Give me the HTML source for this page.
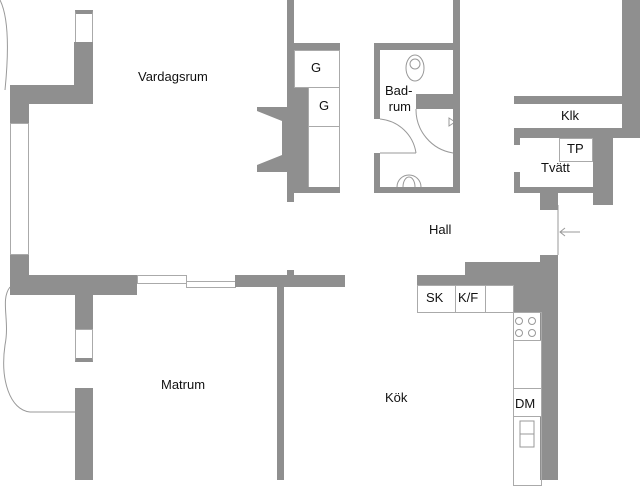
<!DOCTYPE html>
<html><head><meta charset="utf-8"><style>
body{margin:0;width:640px;height:480px;background:#fff;position:relative;overflow:hidden;font-family:"Liberation Sans",sans-serif;color:#111}
.w{position:absolute;background:#8f8f8f}
.b{position:absolute;border:1px solid #aaa;background:#fff;box-sizing:border-box}
.t{position:absolute;font-size:13px;white-space:nowrap}
</style></head><body>
<!-- left upper -->
<div class="b" style="left:75px;top:10px;width:18px;height:33px;border-top:4px solid #8f8f8f"></div>
<div class="w" style="left:74px;top:42px;width:19px;height:62px"></div>
<div class="w" style="left:10px;top:85px;width:83px;height:19px"></div>
<div class="w" style="left:10px;top:85px;width:19px;height:38px"></div>
<div class="b" style="left:10px;top:123px;width:19px;height:132px"></div>
<div class="w" style="left:10px;top:255px;width:19px;height:40px"></div>
<div class="w" style="left:10px;top:275px;width:127px;height:20px"></div>
<div class="b" style="left:137px;top:275px;width:50px;height:9px"></div>
<div class="b" style="left:186px;top:281px;width:50px;height:7px"></div>
<div class="w" style="left:235px;top:275px;width:110px;height:12px"></div>
<div class="w" style="left:287px;top:270px;width:7px;height:6px"></div>
<!-- left lower -->
<div class="w" style="left:75px;top:287px;width:18px;height:42px"></div>
<div class="b" style="left:75px;top:329px;width:18px;height:33px;border-bottom:4px solid #8f8f8f"></div>
<div class="w" style="left:75px;top:388px;width:18px;height:92px"></div>
<div class="w" style="left:277px;top:287px;width:7px;height:193px"></div>
<svg style="position:absolute;left:0;top:0" width="640" height="480"><g fill="none" stroke="#999" stroke-width="1">
<path d="M0,0 C10,20 8,60 5,90"/>
<path d="M10,287 C0,300 10,320 5,345 C0,380 10,410 30,412 L75,412"/>
<path d="M380,119 A40,40 0 0 1 416,153"/><line x1="380" y1="153" x2="416" y2="153"/>
<path d="M416,109 A44,44 0 0 0 453,153"/>
<path d="M449,118 L455,122 L449,126 Z"/>
<ellipse cx="415" cy="68" rx="9" ry="13"/><ellipse cx="415" cy="64" rx="5" ry="5"/>
<path d="M397,187 A12,12 0 0 1 421,187"/><path d="M403,187 A6,10 0 0 1 415,187"/>
<line x1="558" y1="205" x2="558" y2="255"/><path d="M580,232 L560,232 M565,228 L560,232 L565,236"/>
<circle cx="519" cy="321" r="3.5"/><circle cx="532" cy="321" r="3.5"/><circle cx="519" cy="333" r="3.5"/><circle cx="532" cy="333" r="3.5"/>
<rect x="520" y="421" width="14" height="13"/><rect x="520" y="434" width="14" height="13"/>
</g></svg>
<!-- living right column -->
<div class="w" style="left:287px;top:0;width:7px;height:202px"></div>
<div class="w" style="left:287px;top:43px;width:53px;height:7px"></div>
<div class="b" style="left:294px;top:50px;width:46px;height:38px"></div>
<div class="b" style="left:308px;top:87px;width:32px;height:40px"></div>
<div class="b" style="left:308px;top:126px;width:32px;height:62px"></div>
<div class="w" style="left:287px;top:88px;width:21px;height:105px"></div>
<div class="w" style="left:294px;top:187px;width:46px;height:6px"></div>
<div class="w" style="left:257px;top:107px;width:30px;height:65px"></div>
<svg style="position:absolute;left:257px;top:111px" width="26" height="54"><path d="M0,0 L25,10 L25,44 L0,54 Z" fill="#fff"/></svg>
<div class="t" style="left:311px;top:60px">G</div>
<div class="t" style="left:319px;top:98px">G</div>
<!-- bath -->
<div class="w" style="left:374px;top:43px;width:86px;height:7px"></div>
<div class="w" style="left:374px;top:43px;width:6px;height:76px"></div>
<div class="w" style="left:374px;top:153px;width:6px;height:40px"></div>
<div class="w" style="left:453px;top:0;width:7px;height:193px"></div>
<div class="w" style="left:374px;top:187px;width:86px;height:6px"></div>
<div class="w" style="left:416px;top:94px;width:37px;height:15px"></div>
<div class="t" style="left:385px;top:83px;line-height:16px">Bad-<br>&nbsp;rum</div>
<!-- klk/tvatt -->
<div class="w" style="left:622px;top:0;width:18px;height:138px"></div>
<div class="w" style="left:514px;top:96px;width:126px;height:8px"></div>
<div class="w" style="left:514px;top:128px;width:108px;height:10px"></div>
<div class="w" style="left:514px;top:128px;width:6px;height:17px"></div>
<div class="w" style="left:514px;top:172px;width:6px;height:21px"></div>
<div class="w" style="left:593px;top:130px;width:20px;height:75px"></div>
<div class="w" style="left:514px;top:187px;width:80px;height:6px"></div>
<div class="w" style="left:540px;top:187px;width:18px;height:23px"></div>
<div class="b" style="left:559px;top:138px;width:34px;height:24px"></div>
<div class="t" style="left:561px;top:108px">Klk</div>
<div class="t" style="left:567px;top:141px">TP</div>
<div class="t" style="left:541px;top:160px">Tvätt</div>
<div class="t" style="left:429px;top:222px">Hall</div>
<!-- kitchen -->
<div class="w" style="left:540px;top:255px;width:18px;height:225px"></div>
<div class="w" style="left:465px;top:262px;width:93px;height:23px"></div>
<div class="w" style="left:417px;top:275px;width:141px;height:10px"></div>
<div class="w" style="left:513px;top:285px;width:29px;height:27px"></div>
<div class="b" style="left:417px;top:285px;width:39px;height:28px"></div>
<div class="b" style="left:455px;top:285px;width:31px;height:28px"></div>
<div class="b" style="left:485px;top:285px;width:29px;height:28px"></div>
<div class="b" style="left:513px;top:312px;width:29px;height:29px;background:transparent"></div>
<div class="b" style="left:513px;top:340px;width:29px;height:49px"></div>
<div class="b" style="left:513px;top:388px;width:29px;height:29px"></div>
<div class="b" style="left:513px;top:416px;width:29px;height:70px;background:transparent"></div>
<div class="t" style="left:426px;top:290px">SK</div>
<div class="t" style="left:458px;top:290px">K/F</div>
<div class="t" style="left:515px;top:396px">DM</div>
<div class="t" style="left:138px;top:69px">Vardagsrum</div>
<div class="t" style="left:161px;top:377px">Matrum</div>
<div class="t" style="left:385px;top:390px">Kök</div>
</body></html>
